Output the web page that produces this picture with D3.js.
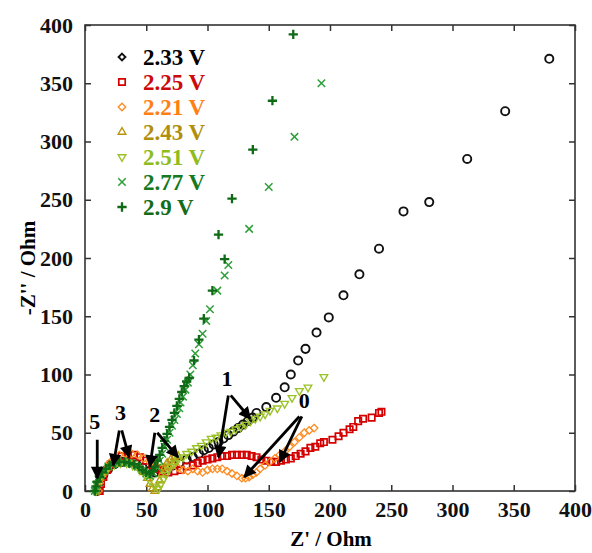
<!DOCTYPE html>
<html>
<head>
<meta charset="utf-8">
<script src="https://cdn.jsdelivr.net/npm/d3@7"></script>
<style>
  body { margin: 0; background: #fff; }
  text { font-family: "Liberation Serif", "DejaVu Serif", serif; font-weight: bold; }
</style>
</head>
<body>
<div id="chart"></div>
<script>
// series values as [Z', -Z''] pairs
const v233 = [[10,0],[12,8],[15,14],[19,19],[24,23],[30,25],[36,25],[42,23],[47,20],[52,17],[57,16],[62,17],[67,19],[72,22],[77,24],[83,27],[88,29],[93,32],[97,35],[101,37],[105,40],[109,42],[113,45],[117,48],[121,51],[125,54],[129,57],[133,60],[137,63],[140,67],[148,72],[156,80],[163,89],[168,100],[174,112],[180,122],[189,136],[199,149],[211,168],[224,186],[240,208],[260,240],[281,248],[312,285],[343,326],[379,371]]
const v225 = [[12,0],[13,6],[15,12],[18,18],[21,23],[25,27],[30,30],[35,31],[40,31],[45,29],[50,26],[55,22],[59,19],[63,17],[68,16],[73,17],[78,18],[83,21],[88,22],[92,24],[96,26],[100,27],[104,28],[108,29],[112,30],[116,30],[120,31],[124,31],[128,31],[132,31],[136,30],[140,29],[144,27],[148,26],[152,25],[156,25],[160,26],[164,27],[168,28],[172,30],[176,32],[180,34],[184,37],[188,38],[192,41],[195,42],[202,44],[207,47],[211,50],[216,53],[219,55],[223,60],[227,62],[234,63],[240,67],[242,68]]
const v221 = [[11,0],[12,7],[14,13],[17,19],[20,24],[24,28],[28,31],[33,32],[38,32],[43,31],[48,28],[53,25],[58,22],[63,20],[68,21],[72,22],[76,20],[80,18],[84,17],[88,19],[92,17],[96,16],[100,18],[104,19],[108,19],[112,19],[116,17],[120,15],[124,13],[128,11],[131,11],[134,12],[137,14],[140,16],[143,19],[147,22],[151,25],[155,28],[159,31],[163,34],[167,38],[171,42],[175,46],[179,50],[183,52],[187,54]]
const v243 = [[9,0],[10,6],[12,11],[15,16],[19,20],[24,23],[29,24],[34,24],[39,23],[44,20],[48,16],[51,11],[53,6],[55,2],[57,0],[59,3],[61,9],[63,15],[65,20],[67,24],[70,27],[73,29],[76,30]]
const v251 = [[9,0],[10,6],[12,11],[15,16],[19,20],[24,23],[29,24],[34,24],[39,22],[44,19],[49,14],[53,9],[57,4],[60,2],[62,6],[64,10],[66,14],[68,18],[70,21],[73,24],[76,27],[80,29],[83,32],[87,34],[91,37],[95,39],[99,42],[103,45],[107,46],[111,48],[115,50],[119,51],[123,53],[127,55],[131,57],[135,60],[139,62],[143,64],[147,66],[151,69],[157,71],[163,75],[169,80],[175,86],[182,89],[195,98]]
const v277 = [[8,0],[9,5],[11,10],[13,14],[16,18],[19,21],[23,23],[27,24],[31,25],[35,24],[39,23],[43,21],[47,18],[50,15],[53,13],[56,15],[59,20],[61,26],[63,32],[65,38],[67,44],[69,50],[71,56],[73,61],[75,66],[77,71],[78,76],[80,81],[82,87],[84,93],[86,100],[88,108],[90,118],[93,126],[96,135],[99,146],[102,156],[108,172],[114,185],[117,194],[134,225],[150,261],[171,304],[193,350]]
const v290 = [[8,0],[9,4],[10,8],[12,12],[14,16],[17,19],[20,22],[24,24],[28,25],[32,25],[36,24],[40,23],[44,21],[47,18],[50,16],[53,15],[55,17],[57,21],[59,26],[61,31],[63,37],[65,43],[67,49],[69,55],[71,61],[73,67],[75,73],[77,79],[79,85],[81,90],[83,94],[85,97],[89,112],[93,130],[97,148],[104,172],[114,199],[109,220],[120,251],[137,293],[153,335],[170,392]]

const seriesNames = ["2.33 V", "2.25 V", "2.21 V", "2.43 V", "2.51 V", "2.77 V", "2.9 V"]
const seriesValues = [v233, v225, v221, v243, v251, v277, v290]
const xTicks = [0, 50, 100, 150, 200, 250, 300, 350, 400]
const yTicks = [0, 50, 100, 150, 200, 250, 300, 350, 400]

// arrow annotations: label, label position, then arrow start -> tip
const notes = [
  { label: "5", at: [8, 53], arrows: [[[10, 44], [10, 11]]] },
  { label: "3", at: [29, 61], arrows: [[[28, 52], [23, 22]], [[30, 52], [36, 29]]] },
  { label: "2", at: [57, 59], arrows: [[[57, 50], [53, 21]], [[59, 50], [76, 29]]] },
  { label: "1", at: [116, 90], arrows: [[[117, 82], [109, 29]], [[119, 82], [135, 62]]] },
  { label: "0", at: [179, 71], arrows: [[[175, 64], [130, 12]], [[177, 64], [159, 25]]] }
]

const markColors = ["#111", "#d40000", "#ff8a1f", "#b8960c", "#9cc22a", "#2f9e3a", "#0f6a16"]
const textColors = ["#000", "#cc0a0a", "#ff7f14", "#b08f0c", "#8fbc1f", "#157a1e", "#146c18"]

const width = 592
const height = 553

const svg = d3.select("#chart")
  .append("svg")
    .attr("width", width)
    .attr("height", height)

const xScale = d3.scaleLinear().domain([0, 400]).range([85, 575])
const yScale = d3.scaleLinear().domain([0, 400]).range([491, 25])

// marker shapes
const symbolFor = [
  d3.symbol().type(d3.symbolCircle).size(52),
  d3.symbol().type(d3.symbolSquare2).size(52),
  d3.symbol().type(d3.symbolDiamond2).size(36),
  d3.symbol().type(d3.symbolTriangle2).size(42),
  d3.symbol().type(d3.symbolTriangle2).size(42),
  d3.symbol().type(d3.symbolX).size(38),
  d3.symbol().type(d3.symbolPlus).size(30)
]
const strokeFor = [1.9, 1.7, 1.3, 1.4, 1.4, 1.5, 2.3]
const rotFor = [0, 0, 0, 0, 180, 0, 0]

// axes, ticks inward on all sides
svg.append("g")
    .attr("transform", `translate(0,${yScale(0)})`)
    .call(d3.axisBottom(xScale).tickValues(xTicks).tickSizeInner(-6).tickSizeOuter(0).tickPadding(10))
    .call(g => g.select(".domain").remove())
    .call(g => g.selectAll("text").style("font-size", "22px").attr("fill", "#111"))
svg.append("g")
    .attr("transform", `translate(0,${yScale(400)})`)
    .call(d3.axisTop(xScale).tickValues(xTicks).tickSizeInner(-6).tickSizeOuter(0).tickFormat(""))
    .call(g => g.select(".domain").remove())
svg.append("g")
    .attr("transform", `translate(${xScale(0)},0)`)
    .call(d3.axisLeft(yScale).tickValues(yTicks).tickSizeInner(-6).tickSizeOuter(0).tickPadding(12))
    .call(g => g.select(".domain").remove())
    .call(g => g.selectAll("text").style("font-size", "22px").attr("fill", "#111"))
svg.append("g")
    .attr("transform", `translate(${xScale(400)},0)`)
    .call(d3.axisRight(yScale).tickValues(yTicks).tickSizeInner(-6).tickSizeOuter(0).tickFormat(""))
    .call(g => g.select(".domain").remove())
svg.selectAll(".tick line").attr("stroke", "#333").attr("stroke-width", 1.5)

svg.append("rect")
    .attr("x", xScale(0))
    .attr("y", yScale(400))
    .attr("width", xScale(400) - xScale(0))
    .attr("height", yScale(0) - yScale(400))
    .attr("fill", "none")
    .attr("stroke", "#333")
    .attr("stroke-width", 1.6)

// points
seriesValues.forEach((vals, i) => {
  svg.append("g")
    .selectAll("path")
    .data(vals)
    .enter()
      .append("path")
        .attr("d", symbolFor[i])
        .attr("transform", d => `translate(${xScale(d[0])},${yScale(d[1])}) rotate(${rotFor[i]})`)
        .attr("fill", "none")
        .attr("stroke", markColors[i])
        .attr("stroke-width", strokeFor[i])
})

// arrows
svg.append("defs").append("marker")
    .attr("id", "head")
    .attr("viewBox", "0 0 10 10")
    .attr("refX", 9)
    .attr("refY", 5)
    .attr("markerWidth", 5)
    .attr("markerHeight", 4.5)
    .attr("orient", "auto")
  .append("path")
    .attr("d", "M0,0 L10,5 L0,10 Z")
    .attr("fill", "#000")

notes.forEach(n => {
  svg.append("text")
      .attr("x", xScale(n.at[0]))
      .attr("y", yScale(n.at[1]))
      .attr("text-anchor", "middle")
      .style("font-size", "22px")
      .text(n.label)
  n.arrows.forEach(a => {
    svg.append("line")
        .attr("x1", xScale(a[0][0]))
        .attr("y1", yScale(a[0][1]))
        .attr("x2", xScale(a[1][0]))
        .attr("y2", yScale(a[1][1]))
        .attr("stroke", "#000")
        .attr("stroke-width", 2.8)
        .attr("marker-end", "url(#head)")
  })
})

// legend
const legend = svg.append("g")
seriesNames.forEach((name, i) => {
  const ly = 57 + i * 25
  legend.append("path")
      .attr("d", i == 0 ? d3.symbol().type(d3.symbolDiamond2).size(30) : symbolFor[i])
      .attr("transform", `translate(122,${ly}) rotate(${rotFor[i]})`)
      .attr("fill", "none")
      .attr("stroke", markColors[i])
      .attr("stroke-width", strokeFor[i])
  legend.append("text")
      .attr("x", 143)
      .attr("y", ly + 8)
      .attr("fill", textColors[i])
      .style("font-size", "23px")
      .text(name)
})

// axis titles
svg.append("text")
    .attr("x", 331)
    .attr("y", 546)
    .attr("text-anchor", "middle")
    .style("font-size", "21px")
    .text("Z' / Ohm")
svg.append("text")
    .attr("transform", "translate(35,268) rotate(-90)")
    .attr("text-anchor", "middle")
    .style("font-size", "21px")
    .text("-Z'' / Ohm")
</script>
</body>
</html>
